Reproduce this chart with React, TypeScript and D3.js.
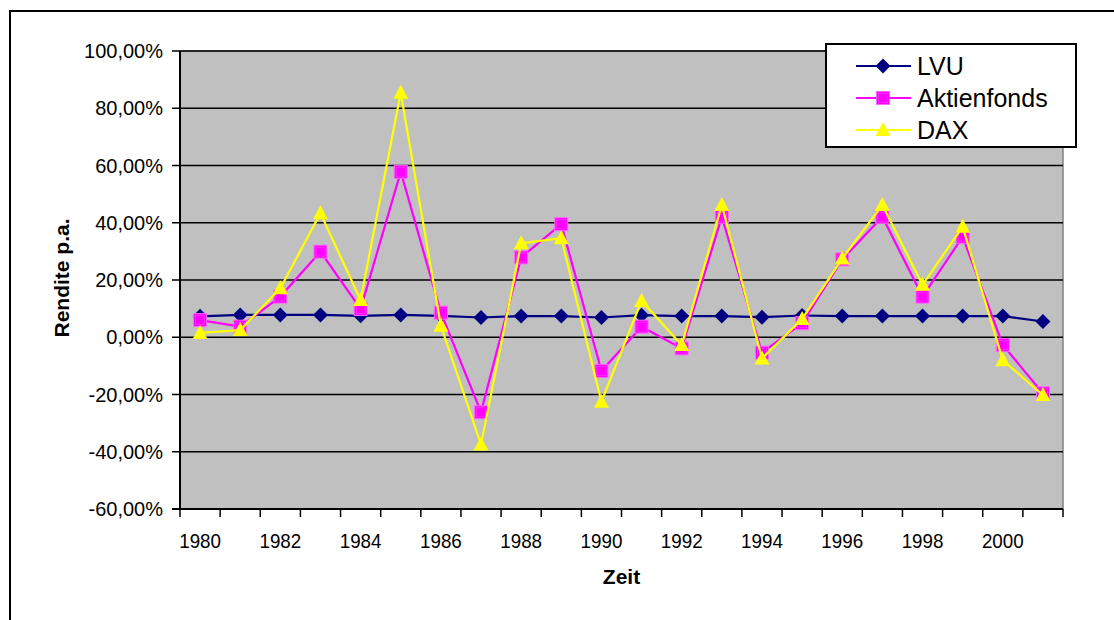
import React, { useEffect, useRef } from "react";
import * as d3 from "d3";

// Jahre (Kategorien) und Renditen in % p.a.
const years = [
  "1980", "1981", "1982", "1983", "1984", "1985", "1986", "1987", "1988", "1989", "1990",
  "1991", "1992", "1993", "1994", "1995", "1996", "1997", "1998", "1999", "2000", "2001",
];
const lvu = [7.3, 7.8, 7.8, 7.8, 7.5, 7.8, 7.5, 6.9, 7.4, 7.4, 6.9, 7.7, 7.4, 7.4, 7.0, 7.6, 7.4, 7.4, 7.4, 7.4, 7.4, 5.5];
const aktienfonds = [6.0, 3.7, 14.2, 29.9, 9.9, 57.8, 8.6, -26.2, 27.9, 39.5, -11.8, 3.7, -3.9, 42.1, -5.4, 4.9, 27.2, 42.1, 14.2, 35.1, -2.7, -19.6];
const dax = [1.5, 2.5, 17.1, 43.3, 13.0, 85.4, 4.0, -37.5, 32.8, 34.6, -22.5, 12.7, -2.7, 46.2, -7.4, 6.4, 27.5, 46.2, 18.3, 38.6, -8.0, -20.2];
const yTicks = [-60, -40, -20, 0, 20, 40, 60, 80, 100];
const xTickLabels = ["1980", "1982", "1984", "1986", "1988", "1990", "1992", "1994", "1996", "1998", "2000"];
const seriesNames = ["LVU", "Aktienfonds", "DAX"];

const FONT = "'Liberation Sans', Arial, sans-serif";

export default function App() {
  const ref = useRef<SVGSVGElement>(null);

  useEffect(() => {
    const svg = d3.select(ref.current);
    svg.selectAll("*").remove();

    const plot = { left: 180, top: 51, right: 1063, bottom: 509 };
    const x = d3.scaleBand().domain(years).range([plot.left, plot.right]);
    const y = d3.scaleLinear().domain([-60, 100]).range([plot.bottom, plot.top]);
    const cx = (d: string) => (x(d) as number) + x.bandwidth() / 2;

    const de = d3.formatLocale({ decimal: ",", thousands: ".", grouping: [3], currency: ["", " €"], minus: "-" });
    const fmt = (v: number) => de.format(".2f")(v) + "%";

    // outer chart frame
    svg.append("rect")
      .attr("x", 10).attr("y", 11).attr("width", 1120).attr("height", 640)
      .attr("fill", "white").attr("stroke", "black").attr("stroke-width", 2);

    // plot area
    svg.append("rect")
      .attr("x", plot.left).attr("y", plot.top)
      .attr("width", plot.right - plot.left).attr("height", plot.bottom - plot.top)
      .attr("fill", "#c0c0c0").attr("stroke", "#808080").attr("stroke-width", 1.5);

    // gridlines
    svg.append("g").selectAll("line")
      .data(yTicks.filter((t) => t > -60))
      .enter().append("line")
      .attr("x1", plot.left).attr("x2", plot.right)
      .attr("y1", (d) => y(d)).attr("y2", (d) => y(d))
      .attr("stroke", "black").attr("stroke-width", 1.5);

    // y axis
    const yAxis = svg.append("g");
    yAxis.append("line")
      .attr("x1", plot.left).attr("x2", plot.left)
      .attr("y1", plot.top).attr("y2", plot.bottom)
      .attr("stroke", "black").attr("stroke-width", 2);
    yAxis.selectAll("line.tick")
      .data(yTicks).enter().append("line").attr("class", "tick")
      .attr("x1", plot.left - 8).attr("x2", plot.left)
      .attr("y1", (d) => y(d)).attr("y2", (d) => y(d))
      .attr("stroke", "black").attr("stroke-width", 1.5);
    yAxis.selectAll("text")
      .data(yTicks).enter().append("text")
      .attr("x", 163).attr("y", (d) => y(d)).attr("dy", "0.36em")
      .attr("text-anchor", "end")
      .attr("font-family", FONT).attr("font-size", 20)
      .text((d) => fmt(d));

    // x axis
    const xAxis = svg.append("g");
    xAxis.append("line")
      .attr("x1", plot.left - 8).attr("x2", plot.right)
      .attr("y1", plot.bottom).attr("y2", plot.bottom)
      .attr("stroke", "black").attr("stroke-width", 2);
    const edges = years.map((d) => x(d) as number).concat([plot.right]);
    xAxis.selectAll("line.tick")
      .data(edges).enter().append("line").attr("class", "tick")
      .attr("x1", (d) => d).attr("x2", (d) => d)
      .attr("y1", plot.bottom).attr("y2", plot.bottom + 8)
      .attr("stroke", "black").attr("stroke-width", 1.5);
    xAxis.selectAll("text")
      .data(xTickLabels).enter().append("text")
      .attr("transform", (d) => `translate(${cx(d)},548) scale(0.94,1)`)
      .attr("text-anchor", "middle")
      .attr("font-family", FONT).attr("font-size", 20)
      .text((d) => d);

    // axis titles
    svg.append("text")
      .attr("x", (plot.left + plot.right) / 2).attr("y", 584)
      .attr("text-anchor", "middle")
      .attr("font-family", FONT).attr("font-size", 21).attr("font-weight", "bold")
      .text("Zeit");
    svg.append("text")
      .attr("transform", `translate(69,${(plot.top + plot.bottom) / 2 - 2}) rotate(-90)`)
      .attr("text-anchor", "middle")
      .attr("font-family", FONT).attr("font-size", 21).attr("font-weight", "bold")
      .text("Rendite p.a.");

    // series
    const line = d3.line<number>().x((_, i) => cx(years[i])).y((d) => y(d));
    const series = [
      { name: seriesNames[0], values: lvu, color: "#000080", marker: "diamond" },
      { name: seriesNames[1], values: aktienfonds, color: "#ff00ff", marker: "square" },
      { name: seriesNames[2], values: dax, color: "#ffff00", marker: "triangle" },
    ];

    const drawMarker = (g: any, kind: string, color: string, px: number, py: number) => {
      if (kind === "diamond") {
        g.append("path")
          .attr("d", `M${px},${py - 7.5}L${px + 7.5},${py}L${px},${py + 7.5}L${px - 7.5},${py}Z`)
          .attr("fill", color);
      } else if (kind === "square") {
        g.append("rect")
          .attr("x", px - 6.5).attr("y", py - 6.5).attr("width", 13).attr("height", 13)
          .attr("fill", color).attr("stroke", "#ff66ff").attr("stroke-width", 1);
        g.append("rect")
          .attr("x", px - 4.5).attr("y", py - 4.5).attr("width", 9).attr("height", 9)
          .attr("fill", color).attr("stroke", "#ff33ff").attr("stroke-width", 0.8);
      } else {
        g.append("path")
          .attr("d", `M${px},${py - 8}L${px + 7.5},${py + 6}L${px - 7.5},${py + 6}Z`)
          .attr("fill", color);
      }
    };

    series.forEach((s) => {
      const g = svg.append("g");
      g.append("path")
        .attr("d", line(s.values))
        .attr("fill", "none").attr("stroke", s.color).attr("stroke-width", 2.2);
      s.values.forEach((v, i) => drawMarker(g, s.marker, s.color, cx(years[i]), y(v)));
    });

    // legend
    const lg = svg.append("g");
    lg.append("rect")
      .attr("x", 826).attr("y", 44).attr("width", 250).attr("height", 103)
      .attr("fill", "white").attr("stroke", "black").attr("stroke-width", 2);
    series.forEach((s, i) => {
      const ly = 66 + i * 32;
      lg.append("line")
        .attr("x1", 856).attr("x2", 911).attr("y1", ly).attr("y2", ly)
        .attr("stroke", s.color).attr("stroke-width", 2.2);
      drawMarker(lg, s.marker, s.color, 883, ly);
      lg.append("text")
        .attr("x", 917).attr("y", ly).attr("dy", "0.36em")
        .attr("font-family", FONT).attr("font-size", 25)
        .text(s.name);
    });
  }, []);

  return (
    <svg
      ref={ref}
      width={1114}
      height={620}
      style={{ position: "absolute", left: 0, top: 0, background: "white" }}
    />
  );
}
